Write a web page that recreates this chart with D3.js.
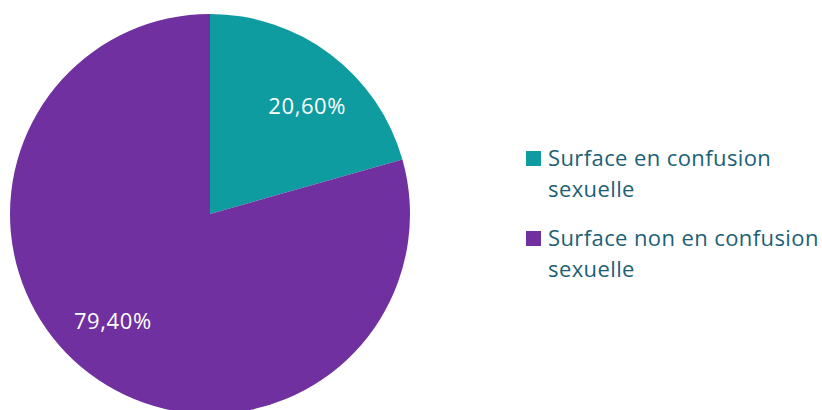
<!DOCTYPE html>
<html lang="fr">
<head>
<meta charset="UTF-8" />
<script src="https://cdn.jsdelivr.net/npm/d3@7"></script>
<style>
  body { margin: 0; background: #fff; }
  text { font-family: "Open Sans", "Noto Sans", sans-serif; }
</style>
</head>
<body>
<svg width="822" height="410"></svg>
<script>
  var categories = ['Surface en confusion sexuelle', 'Surface non en confusion sexuelle'];
  var legendLines = [['Surface en confusion', 'sexuelle'], ['Surface non en confusion', 'sexuelle']];
  var values = [20.6, 79.4];
  var labels = ['20,60%', '79,40%'];
  var colors = ['#0e9ca1', '#7030a0'];

  var svg = d3.select('svg');
  var cx = 210, cy = 214, r = 200;

  var pie = d3.pie().sort(null).value(function (d) { return d; });
  var arcs = pie(values);

  var arc = d3.arc().innerRadius(0).outerRadius(r);

  var g = svg.append('g').attr('transform', 'translate(' + cx + ',' + cy + ')');

  g.selectAll('path')
    .data(arcs)
    .enter()
    .append('path')
    .attr('d', arc)
    .attr('fill', function (d, i) { return colors[i]; });

  // étiquettes : un peu décalées dans le sens horaire, comme Excel
  var shift = 5 * Math.PI / 180;
  var lr = 145;
  g.selectAll('text')
    .data(arcs)
    .enter()
    .append('text')
    .attr('transform', function (d) {
      var a = (d.startAngle + d.endAngle) / 2 + shift;
      return 'translate(' + (lr * Math.sin(a)) + ',' + (-lr * Math.cos(a)) + ')';
    })
    .attr('text-anchor', 'middle')
    .attr('dy', '0.35em')
    .attr('fill', '#fff')
    .style('font-size', '22px')
    .style('letter-spacing', '0.6px')
    .text(function (d, i) { return labels[i]; });

  // légende
  var legend = svg.append('g').attr('transform', 'translate(526,151)');
  var items = legend.selectAll('g')
    .data(categories)
    .enter()
    .append('g')
    .attr('transform', function (d, i) { return 'translate(0,' + i * 80 + ')'; });

  items.append('rect')
    .attr('width', 15)
    .attr('height', 15)
    .attr('fill', function (d, i) { return colors[i]; });

  items.append('text')
    .attr('y', 15)
    .attr('fill', '#1b6175')
    .style('font-size', '22px')
    .style('letter-spacing', '0.4px')
    .selectAll('tspan')
    .data(function (d, i) { return legendLines[i]; })
    .enter()
    .append('tspan')
    .attr('x', 22)
    .attr('dy', function (d, j) { return j === 0 ? 0 : 31; })
    .text(function (d) { return d; });
</script>
</body>
</html>
